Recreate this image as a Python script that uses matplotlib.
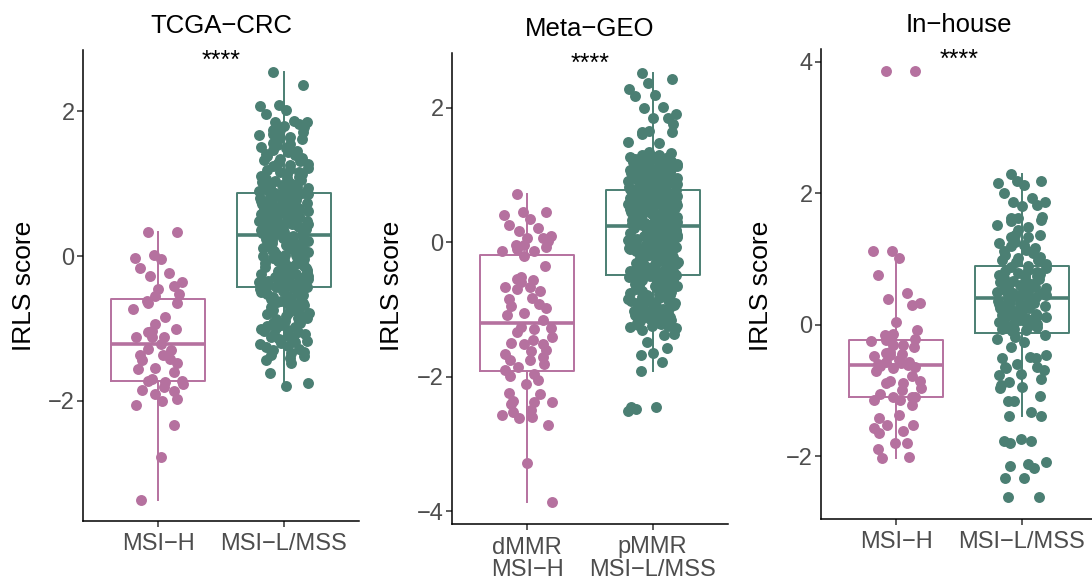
import matplotlib
matplotlib.use("Agg")
import matplotlib.pyplot as plt
import numpy as np

plt.rcParams['font.family'] = ['Liberation Sans', 'DejaVu Sans']

# colours of the two groups
pink = "#B5719F"
green = "#4B7F73"

titles = ["TCGA\u2212CRC", "Meta\u2212GEO", "In\u2212house"]
xlabels_tcga = ["MSI\u2212H", "MSI\u2212L/MSS"]
xlabels_geo = ["dMMR\nMSI\u2212H", "pMMR\nMSI\u2212L/MSS"]
xlabels_inhouse = ["MSI\u2212H", "MSI\u2212L/MSS"]
signif = ["****", "****", "****"]

# IRLS scores
tcga_msih = [0.34, 0.33, 0.02, -0.03, -0.04, -0.16, -0.23, -0.27, -0.36, -0.41,
             -0.46, -0.52, -0.55, -0.62, -0.64, -0.65, -0.73, -0.84, -0.94, -1.01,
             -1.03, -1.05, -1.11, -1.11, -1.12, -1.22, -1.28, -1.30, -1.36, -1.37,
             -1.42, -1.44, -1.48, -1.54, -1.56, -1.60, -1.70, -1.73, -1.74, -1.72,
             -1.76, -1.81, -1.85, -1.87, -1.90, -1.97, -2.00, -2.05, -2.33, -2.78,
             -3.37]

tcga_mss = [2.55, 2.36, 2.09, 2.08, 2.02, 1.97, 1.87, 1.86, 1.85, 1.83,
            1.80, 1.78, 1.75, 1.74, 1.71, 1.69, 1.68, 1.65, 1.63, 1.62,
            1.59, 1.57, 1.55, 1.54, 1.51, 1.49, 1.47, 1.46, 1.44, 1.41,
            1.40, 1.38, 1.36, 1.34, 1.33, 1.31, 1.29, 1.27, 1.26, 1.24,
            1.22, 1.21, 1.19, 1.17, 1.16, 1.14, 1.13, 1.11, 1.10, 1.08,
            1.07, 1.05, 1.04, 1.03, 1.01, 1.00, 0.99, 0.98, 0.97, 0.96,
            0.95, 0.94, 0.93, 0.92, 0.91, 0.90, 0.90, 0.89, 0.88, 0.88,
            0.87, 0.86, 0.86, 0.85, 0.84, 0.83, 0.82, 0.82, 0.81, 0.80,
            0.79, 0.78, 0.78, 0.77, 0.76, 0.75, 0.74, 0.74, 0.73, 0.72,
            0.71, 0.70, 0.70, 0.69, 0.68, 0.67, 0.66, 0.65, 0.65, 0.64,
            0.63, 0.62, 0.61, 0.60, 0.60, 0.59, 0.58, 0.57, 0.56, 0.55,
            0.54, 0.54, 0.53, 0.52, 0.51, 0.50, 0.49, 0.48, 0.48, 0.47,
            0.46, 0.45, 0.44, 0.43, 0.42, 0.42, 0.41, 0.40, 0.39, 0.38,
            0.37, 0.36, 0.36, 0.35, 0.34, 0.33, 0.32, 0.31, 0.30, 0.30,
            0.28, 0.27, 0.26, 0.25, 0.24, 0.23, 0.22, 0.21, 0.19, 0.18,
            0.17, 0.16, 0.15, 0.14, 0.13, 0.11, 0.10, 0.09, 0.08, 0.07,
            0.06, 0.05, 0.03, 0.02, 0.01, 0.00, -0.01, -0.02, -0.04, -0.05,
            -0.06, -0.07, -0.08, -0.09, -0.11, -0.12, -0.13, -0.14, -0.15, -0.16,
            -0.18, -0.19, -0.20, -0.21, -0.22, -0.23, -0.24, -0.25, -0.26, -0.27,
            -0.28, -0.29, -0.30, -0.31, -0.32, -0.33, -0.34, -0.34, -0.35, -0.36,
            -0.37, -0.37, -0.38, -0.39, -0.39, -0.40, -0.40, -0.41, -0.41, -0.42,
            -0.43, -0.44, -0.46, -0.47, -0.48, -0.50, -0.51, -0.52, -0.54, -0.55,
            -0.56, -0.58, -0.59, -0.60, -0.62, -0.63, -0.64, -0.66, -0.67, -0.68,
            -0.70, -0.71, -0.72, -0.74, -0.75, -0.76, -0.78, -0.79, -0.80, -0.82,
            -0.83, -0.85, -0.86, -0.87, -0.89, -0.90, -0.92, -0.93, -0.95, -0.96,
            -0.98, -0.99, -1.01, -1.02, -1.04, -1.05, -1.07, -1.08, -1.10, -1.12,
            -1.13, -1.15, -1.17, -1.18, -1.20, -1.22, -1.24, -1.26, -1.28, -1.30,
            -1.32, -1.34, -1.36, -1.38, -1.41, -1.43, -1.48, -1.61, -1.75, -1.79]

geo_msih = [0.71, 0.45, 0.44, 0.40, 0.35, 0.25, 0.21, 0.16, 0.09, 0.06,
            0.06, 0.01, -0.04, -0.05, -0.08, -0.11, -0.13, -0.14, -0.21, -0.35,
            -0.52, -0.55, -0.57, -0.60, -0.67, -0.67, -0.70, -0.73, -0.83, -0.85,
            -0.92, -0.95, -0.98, -1.05, -1.09, -1.16, -1.26, -1.27, -1.29, -1.34,
            -1.41, -1.46, -1.50, -1.51, -1.51, -1.61, -1.62, -1.66, -1.71, -1.76,
            -1.76, -1.81, -1.86, -1.90, -1.96, -1.99, -2.05, -2.11, -2.25, -2.26,
            -2.36, -2.37, -2.37, -2.40, -2.49, -2.52, -2.57, -2.60, -2.62, -2.72,
            -3.29, -3.87]

geo_mss = [2.52, 2.43, 2.37, 2.28, 2.19, 2.17, 2.01, 1.99, 1.90, 1.85,
           1.84, 1.76, 1.65, 1.63, 1.63, 1.61, 1.49, 1.47, 1.34, 1.32,
           1.30, 1.29, 1.29,
           1.28, 1.27, 1.26, 1.25, 1.25, 1.24, 1.23, 1.22, 1.21, 1.20,
           1.19, 1.19, 1.18, 1.17, 1.16, 1.15, 1.14, 1.13, 1.13, 1.12,
           1.11, 1.10, 1.09, 1.08, 1.07, 1.07, 1.06, 1.05, 1.04, 1.03,
           1.02, 1.01, 1.01, 1.00, 0.99, 0.98, 0.97, 0.96, 0.95, 0.95,
           0.94, 0.93, 0.92, 0.91, 0.90, 0.89, 0.89, 0.88, 0.87, 0.86,
           0.85, 0.85, 0.84, 0.83, 0.83, 0.82, 0.82, 0.81, 0.81, 0.80,
           0.80, 0.79, 0.79, 0.78,
           0.78, 0.77, 0.77, 0.76, 0.75, 0.75, 0.74, 0.73, 0.73, 0.72,
           0.71, 0.71, 0.70, 0.69, 0.69, 0.68, 0.67, 0.67, 0.66, 0.65,
           0.65, 0.64, 0.63, 0.63, 0.62, 0.61, 0.61, 0.60, 0.59, 0.59,
           0.58, 0.57, 0.57, 0.56, 0.55, 0.55, 0.54, 0.53, 0.53, 0.52,
           0.51, 0.51, 0.50, 0.49, 0.49, 0.48, 0.47, 0.47, 0.46, 0.45,
           0.45, 0.44, 0.43, 0.43, 0.42, 0.41, 0.41, 0.40, 0.39, 0.39,
           0.38, 0.37, 0.37, 0.36, 0.35, 0.35, 0.34, 0.33, 0.33, 0.32,
           0.31, 0.31, 0.30, 0.30, 0.29, 0.29, 0.28, 0.28, 0.27, 0.27,
           0.26, 0.26, 0.26, 0.25, 0.25, 0.25, 0.25,
           0.24, 0.23, 0.22, 0.21, 0.21, 0.20, 0.19, 0.18, 0.17, 0.16,
           0.15, 0.15, 0.14, 0.13, 0.12, 0.11, 0.10, 0.09, 0.09, 0.08,
           0.07, 0.06, 0.05, 0.04, 0.03, 0.03, 0.02, 0.01, 0.00, -0.01,
           -0.02, -0.03, -0.03, -0.04, -0.05, -0.06, -0.07, -0.08, -0.09, -0.09,
           -0.10, -0.11, -0.12, -0.13, -0.14, -0.15, -0.15, -0.16, -0.17, -0.18,
           -0.19, -0.20, -0.21, -0.21, -0.22, -0.23, -0.24, -0.25, -0.26, -0.27,
           -0.27, -0.28, -0.29, -0.30, -0.31, -0.32, -0.33, -0.33, -0.34, -0.35,
           -0.36, -0.37, -0.38, -0.39, -0.39, -0.40, -0.41, -0.42, -0.43, -0.44,
           -0.45, -0.45, -0.46, -0.46, -0.47, -0.47, -0.48, -0.48,
           -0.49, -0.50, -0.51, -0.52, -0.53, -0.54, -0.55, -0.56, -0.57, -0.58,
           -0.59, -0.60, -0.61, -0.62, -0.63, -0.64, -0.65, -0.66, -0.67, -0.68,
           -0.69, -0.70, -0.71, -0.72, -0.74, -0.75, -0.76, -0.77, -0.78, -0.79,
           -0.80, -0.81, -0.82, -0.83, -0.84, -0.86, -0.87, -0.88, -0.89, -0.90,
           -0.91, -0.92, -0.93, -0.95, -0.96, -0.97, -0.98, -0.99, -1.00, -1.02,
           -1.03, -1.04, -1.05, -1.06, -1.07, -1.08, -1.09, -1.10, -1.11, -1.12,
           -1.13, -1.14, -1.15, -1.16, -1.17, -1.18, -1.19, -1.20, -1.21, -1.22,
           -1.23, -1.24, -1.25, -1.26, -1.28, -1.30,
           -1.36, -1.38, -1.48, -1.58, -1.65, -1.68, -1.78, -1.92, -2.45, -2.45,
           -2.48, -2.51]

inhouse_msih = [3.85, 3.85, 1.12, 1.12, 1.02, 0.75, 0.49, 0.39, 0.33, 0.30,
                0.05, -0.08, -0.14, -0.15, -0.22, -0.23, -0.24, -0.30, -0.30, -0.34,
                -0.41, -0.43, -0.44, -0.46, -0.48, -0.54, -0.56, -0.57, -0.58, -0.60,
                -0.61, -0.62, -0.64, -0.66, -0.70, -0.78, -0.85, -0.86, -0.88, -0.88,
                -0.96, -0.99, -1.05, -1.09, -1.09, -1.10, -1.14, -1.14, -1.22, -1.37,
                -1.41, -1.52, -1.52, -1.56, -1.61, -1.64, -1.80, -1.80, -1.88, -2.01,
                -2.03]

inhouse_mss = [2.29, 2.19, 2.19, 2.15, 2.13, 2.00, 1.92, 1.87, 1.87, 1.82,
               1.80, 1.64, 1.62, 1.62, 1.59, 1.57, 1.52, 1.48, 1.44, 1.37,
               1.36, 1.34, 1.34, 1.26, 1.24, 1.21, 1.19, 1.17, 1.14, 1.12,
               1.09, 1.06, 1.03, 1.01, 0.98, 0.98, 0.96, 0.93,
               0.90, 0.88, 0.86, 0.84, 0.81, 0.80, 0.78, 0.77, 0.76, 0.75,
               0.74, 0.73, 0.71, 0.70, 0.67, 0.65, 0.63, 0.63, 0.62, 0.60,
               0.60, 0.58, 0.58, 0.56, 0.55, 0.53, 0.51, 0.50, 0.50, 0.48,
               0.48, 0.48, 0.47, 0.45, 0.45, 0.44, 0.43, 0.41, 0.40, 0.40,
               0.38, 0.36, 0.35, 0.34, 0.33, 0.32, 0.31, 0.30, 0.30, 0.28,
               0.27, 0.26, 0.25, 0.23, 0.22, 0.20, 0.19, 0.17, 0.16, 0.15,
               0.14, 0.13, 0.12, 0.10, 0.10, 0.08, 0.07, 0.05, 0.04, 0.02,
               0.01, 0.00, -0.02, -0.03, -0.06, -0.07, -0.08, -0.10,
               -0.16, -0.18, -0.21, -0.26, -0.34, -0.46, -0.49, -0.50, -0.51, -0.59,
               -0.64, -0.64, -0.66, -0.69, -0.74, -0.77, -0.82, -0.87, -0.92, -0.94,
               -0.96, -1.08, -1.15, -1.16, -1.32, -1.38, -1.39, -1.73, -1.77, -1.77,
               -1.80, -2.08, -2.11, -2.14, -2.17, -2.33, -2.33, -2.62, -2.62]


def jitter(n, width=0.2):
    # deterministic horizontal spread standing in for geom_jitter(width = 0.2):
    # golden-ratio steps, loosened a little so no lattice shows
    k = np.arange(n, dtype=float)
    wobble = (np.sin(k * 12.9898 + 1.3) * 43758.5453) % 1.0
    u = (k * 0.6180339887 + 0.32 * wobble) % 1.0
    return (u - 0.5) * 2 * width


fig = plt.figure(figsize=(10.92, 5.84), dpi=100)

panels = [
    (titles[0], [tcga_msih, tcga_mss], xlabels_tcga, (-3.66, 2.85), [-2, 0, 2],
     [83 / 1092, 63 / 584, 276 / 1092, 471 / 584], 24),
    (titles[1], [geo_msih, geo_mss], xlabels_geo, (-4.19, 2.81), [-4, -2, 0, 2],
     [452 / 1092, 60 / 584, 276 / 1092, 471 / 584], 392),
    (titles[2], [inhouse_msih, inhouse_mss], xlabels_inhouse, (-2.95, 4.19), [-2, 0, 2, 4],
     [821 / 1092, 65 / 584, 276 / 1092, 470 / 584], 761),
]

for p, (title, groups, xlabs, ylim, yticks, rect, ylab_x) in enumerate(panels):
    ax = fig.add_axes(rect)
    for i, (vals, col) in enumerate(zip(groups, [pink, green])):
        pos = i + 1
        ax.boxplot([vals], positions=[pos], widths=0.75, whis=1.5,
                   showfliers=False, showcaps=False,
                   boxprops=dict(color=col, linewidth=1.4),
                   whiskerprops=dict(color=col, linewidth=1.4),
                   medianprops=dict(color=col, linewidth=2.6),
                   zorder=2)
        ax.scatter(pos + jitter(len(vals)), vals, s=62, color=col,
                   linewidths=0, zorder=3)

    ax.set_xlim(0.4, 2.6)
    ax.set_ylim(*ylim)
    ax.set_xticks([1, 2])
    ax.set_xticklabels(xlabs, linespacing=1.05)
    ax.set_yticks(yticks)
    for s in ["top", "right"]:
        ax.spines[s].set_visible(False)
    for s in ["left", "bottom"]:
        ax.spines[s].set_linewidth(1.1)
        ax.spines[s].set_color("black")
    ax.tick_params(length=4, width=1.1, color="#333333", labelsize=17,
                   labelcolor="#4D4D4D", pad=2)
    ax.tick_params(axis="x", pad=5)
    ax.set_title(title, fontsize=18.5, pad=12)
    ax.annotate(signif[p], xy=(1.5, 1), xycoords=("data", "axes fraction"),
                xytext=(0, -13), textcoords="offset points",
                ha="center", va="baseline", fontsize=18)
    fig.text(ylab_x / 1092, 0.511, "IRLS score", rotation=90,
             ha="center", va="center", fontsize=19)

fig.savefig("out.png", dpi=100)
